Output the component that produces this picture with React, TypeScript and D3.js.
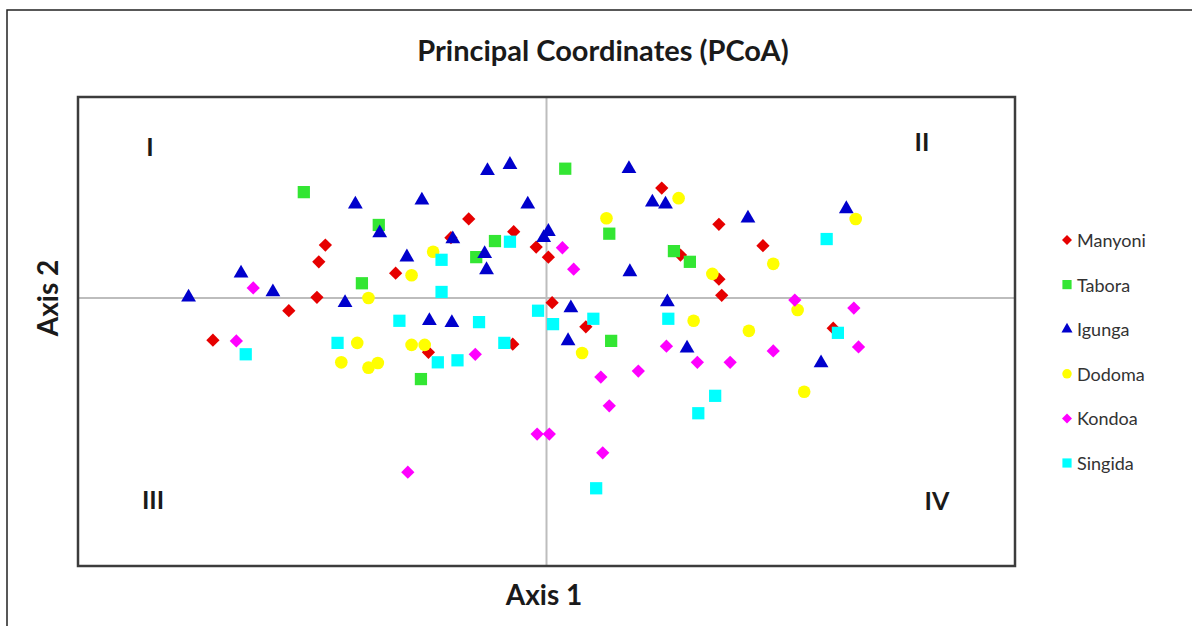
import React from "react";
import * as d3 from "d3";

const seriesNames = ["Manyoni", "Tabora", "Igunga", "Dodoma", "Kondoa", "Singida"];

const manyoni: [number, number][] = [
  [-0.356, -0.063], [-0.275, -0.019], [-0.245, 0.001], [-0.243, 0.054], [-0.236, 0.079],
  [-0.161, 0.037], [-0.126, -0.081], [-0.102, 0.09], [-0.083, 0.118], [-0.035, 0.099],
  [-0.036, -0.069], [-0.011, 0.076], [0.002, 0.061], [0.006, -0.007], [0.042, -0.043],
  [0.123, 0.164], [0.143, 0.064], [0.184, 0.11], [0.231, 0.078], [0.184, 0.028],
  [0.187, 0.004], [0.306, -0.045],
];
const tabora: [number, number][] = [
  [-0.259, 0.158], [-0.179, 0.109], [-0.197, 0.022], [-0.134, -0.121], [-0.075, 0.061],
  [-0.055, 0.085], [0.02, 0.193], [0.067, 0.096], [0.136, 0.07], [0.153, 0.054], [0.069, -0.064],
];
const igunga: [number, number][] = [
  [-0.382, 0.001], [-0.326, 0.037], [-0.292, 0.009], [-0.204, 0.14], [-0.178, 0.097],
  [-0.215, -0.007], [-0.133, 0.146], [-0.149, 0.061], [-0.1, 0.088], [-0.125, -0.034],
  [-0.101, -0.037], [-0.063, 0.19], [-0.039, 0.199], [-0.02, 0.14], [-0.066, 0.066],
  [-0.064, 0.042], [-0.003, 0.09], [0.002, 0.099], [0.026, -0.015], [0.023, -0.064],
  [0.088, 0.193], [0.113, 0.143], [0.127, 0.14], [0.089, 0.039], [0.129, -0.006],
  [0.15, -0.075], [0.215, 0.119], [0.32, 0.133], [0.293, -0.097],
];
const dodoma: [number, number][] = [
  [-0.19, 0.0], [-0.144, 0.034], [-0.121, 0.069], [-0.202, -0.067], [-0.219, -0.096],
  [-0.19, -0.104], [-0.18, -0.097], [-0.144, -0.07], [-0.13, -0.07], [0.038, -0.082],
  [0.064, 0.119], [0.141, 0.149], [0.177, 0.036], [0.242, 0.051], [0.157, -0.034],
  [0.216, -0.049], [0.268, -0.018], [0.275, -0.14], [0.33, 0.118],
];
const kondoa: [number, number][] = [
  [-0.313, 0.015], [-0.331, -0.064], [-0.148, -0.26], [-0.076, -0.084], [-0.01, -0.203],
  [0.003, -0.203], [0.017, 0.075], [0.029, 0.043], [0.058, -0.118], [0.067, -0.161],
  [0.06, -0.231], [0.098, -0.109], [0.128, -0.072], [0.161, -0.096], [0.196, -0.096],
  [0.242, -0.079], [0.265, -0.003], [0.328, -0.015], [0.333, -0.073],
];
const singida: [number, number][] = [
  [-0.321, -0.084], [-0.223, -0.067], [-0.157, -0.034], [-0.116, -0.096], [-0.095, -0.093],
  [-0.072, -0.036], [-0.112, 0.057], [-0.112, 0.009], [-0.039, 0.084], [-0.045, -0.067],
  [-0.009, -0.019], [0.007, -0.039], [0.05, -0.031], [0.13, -0.031], [0.162, -0.172],
  [0.18, -0.146], [0.053, -0.284], [0.299, 0.088], [0.311, -0.052],
];

const seriesData = [manyoni, tabora, igunga, dodoma, kondoa, singida];
const colors = ["#e60000", "#33e633", "#0000cc", "#ffff00", "#ff00ff", "#00ffff"];
const shapes = ["diamond", "square", "triangle", "circle", "diamond", "square"];
const quadrantLabels = ["I", "II", "III", "IV"];

const xDomain: [number, number] = [-0.5, 0.5];
const yDomain: [number, number] = [-0.4, 0.3];

const W = 1192;
const H = 626;
const plot = { left: 78, right: 1015, top: 97, bottom: 566 };
const FONT = "Lato, 'Open Sans', sans-serif";

function markerPath(shape: string): string {
  const gen = d3.symbol();
  if (shape === "diamond") return gen.type(d3.symbolSquare).size(88)() as string;
  if (shape === "square") return gen.type(d3.symbolSquare).size(150)() as string;
  if (shape === "triangle") return gen.type(d3.symbolTriangle).size(95)() as string;
  return gen.type(d3.symbolCircle).size(125)() as string;
}

function Marker({ shape, color, x, y, scale = 1 }: { shape: string; color: string; x: number; y: number; scale?: number }) {
  const rot = shape === "diamond" ? " rotate(45)" : "";
  return (
    <path
      d={markerPath(shape)}
      transform={`translate(${x},${y})${rot} scale(${scale})`}
      fill={color}
    />
  );
}

export default function App() {
  const x = d3.scaleLinear().domain(xDomain).range([plot.left, plot.right]);
  const y = d3.scaleLinear().domain(yDomain).range([plot.bottom, plot.top]);
  const legendY = d3.scalePoint<string>().domain(seriesNames).range([240, 463]);

  const qPos = [
    { x: 150, y: 150 },
    { x: 922, y: 145 },
    { x: 153, y: 503 },
    { x: 937, y: 504 },
  ];

  return (
    <svg
      width={W}
      height={H}
      style={{ position: "absolute", left: 0, top: 0, background: "#fff" }}
      fontFamily={FONT}
    >
      <rect x={0} y={0} width={W} height={H} fill="#fff" />
      <rect x={7} y={10} width={W + 20} height={H + 20} fill="none" stroke="#222" strokeWidth={1.5} />
      <text x={603} y={61} textAnchor="middle" fontSize={29} fontWeight="bold" fill="#1a1a1a">
        Principal Coordinates (PCoA)
      </text>

      <line x1={x(0)} x2={x(0)} y1={plot.top} y2={plot.bottom} stroke="#bdbdbd" strokeWidth={2} />
      <line x1={plot.left} x2={plot.right} y1={y(0)} y2={y(0)} stroke="#bdbdbd" strokeWidth={2} />

      {quadrantLabels.map((q, i) => (
        <text key={q} x={qPos[i].x} y={qPos[i].y} textAnchor="middle" dominantBaseline="middle" fontSize={25} fontWeight="bold" fill="#1a1a1a">
          {q}
        </text>
      ))}

      {seriesData.map((pts, si) => (
        <g key={seriesNames[si]}>
          {pts.map((p, i) => (
            <Marker key={i} shape={shapes[si]} color={colors[si]} x={x(p[0])} y={y(p[1])} />
          ))}
        </g>
      ))}

      <rect
        x={plot.left}
        y={plot.top}
        width={plot.right - plot.left}
        height={plot.bottom - plot.top}
        fill="none"
        stroke="#3c3c3c"
        strokeWidth={2.5}
      />

      <text x={544} y={605} textAnchor="middle" fontSize={28} fontWeight="bold" fill="#1a1a1a">
        Axis 1
      </text>
      <text
        transform={`translate(58,${298}) rotate(-90)`}
        textAnchor="middle"
        fontSize={28}
        fontWeight="bold"
        fill="#1a1a1a"
      >
        Axis 2
      </text>

      {seriesNames.map((name, i) => (
        <g key={name} transform={`translate(0,${legendY(name)})`}>
          <Marker shape={shapes[i]} color={colors[i]} x={1067} y={0} scale={0.75} />
          <text x={1077} y={0} dominantBaseline="central" fontSize={18} fill="#333">
            {name}
          </text>
        </g>
      ))}
    </svg>
  );
}
